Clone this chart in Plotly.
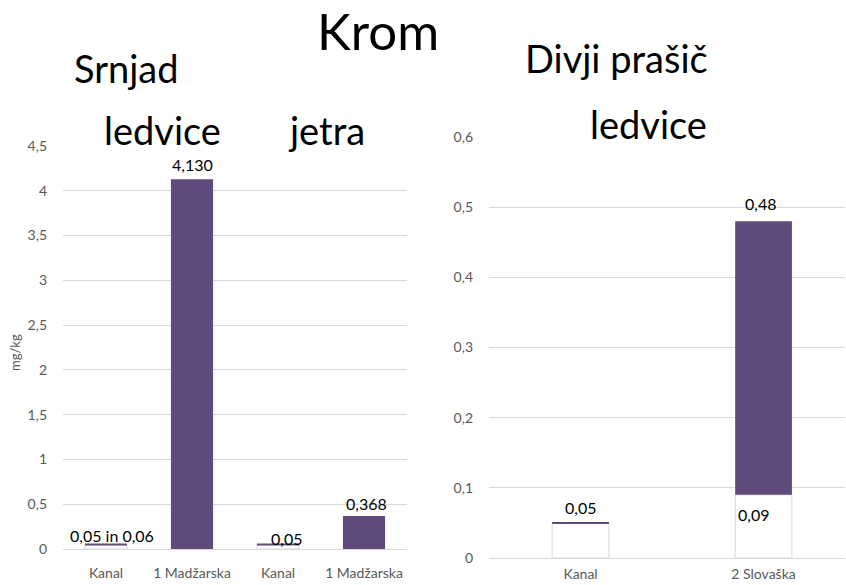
import plotly.graph_objects as go

# ---------------- data ----------------
left_categories = ["Kanal", "1 Madžarska", "Kanal", "1 Madžarska"]
left_values = [0.05, 4.130, 0.05, 0.368]
left_labels = ["0,05 in 0,06", "4,130", "0,05", "0,368"]
left_is_control = [True, False, True, False]
left_yticks = [0, 0.5, 1, 1.5, 2, 2.5, 3, 3.5, 4, 4.5]

right_categories = ["Kanal", "2 Slovaška"]
right_lower = [0.05, 0.09]          # white (control / lower) segment
right_total = [None, 0.48]          # total height of coloured bar
right_lower_labels = ["0,05", "0,09"]
right_total_labels = [None, "0,48"]
right_is_control = [True, False]
right_yticks = [0, 0.1, 0.2, 0.3, 0.4, 0.5, 0.6]

# ---------------- style ----------------
W, H = 846, 585
PURPLE = "#604a7b"
GRID = "#d9d9d9"
TICK = "#595959"
FONT = "Lato"

def px_x(p):
    return p / W

def px_y(p):
    return 1 - p / H

LW = 0.49   # left bar width (category units)
RW = 0.31   # right bar width

fig = go.Figure()

left_x = list(range(len(left_categories)))
fig.add_trace(go.Bar(
    x=[x for x, c in zip(left_x, left_is_control) if c],
    y=[v for v, c in zip(left_values, left_is_control) if c],
    width=LW, marker=dict(color="white", line=dict(color=GRID, width=1)),
    xaxis="x", yaxis="y", hoverinfo="skip", showlegend=False))
fig.add_trace(go.Bar(
    x=[x for x, c in zip(left_x, left_is_control) if not c],
    y=[v for v, c in zip(left_values, left_is_control) if not c],
    width=LW, marker=dict(color=PURPLE, line=dict(width=0)),
    xaxis="x", yaxis="y", showlegend=False))

right_x = list(range(len(right_categories)))
fig.add_trace(go.Bar(
    x=right_x, y=right_lower, width=RW,
    marker=dict(color="white", line=dict(color=GRID, width=1)),
    xaxis="x2", yaxis="y2", hoverinfo="skip", showlegend=False))
rx = [x for x, t in zip(right_x, right_total) if t is not None]
rb = [b for b, t in zip(right_lower, right_total) if t is not None]
rt = [t for t in right_total if t is not None]
fig.add_trace(go.Bar(
    x=rx, base=rb, y=[t - b for t, b in zip(rt, rb)], width=RW,
    marker=dict(color=PURPLE, line=dict(width=0)),
    xaxis="x2", yaxis="y2", showlegend=False))

shapes = []
for x, v, c in zip(left_x, left_values, left_is_control):
    if c:
        shapes.append(dict(type="line", xref="x", yref="y", x0=x - LW / 2, x1=x + LW / 2,
                           y0=v, y1=v, line=dict(color=PURPLE, width=2)))
for x, v, c in zip(right_x, right_lower, right_is_control):
    if c:
        shapes.append(dict(type="line", xref="x2", yref="y2", x0=x - RW / 2, x1=x + RW / 2,
                           y0=v, y1=v, line=dict(color=PURPLE, width=2)))

annotations = []
lab_font = dict(family=FONT, size=16, color="#000000")
left_shift = [(6, 9.5), (0, 15), (8.5, 6.5), (2, 13)]
for x, v, t, (dx, dy) in zip(left_x, left_values, left_labels, left_shift):
    annotations.append(dict(x=x, y=v, xref="x", yref="y", text=t, showarrow=False,
                            yanchor="middle", xshift=dx, yshift=dy, font=lab_font))
right_low_shift = [(0, 15.5), (-10, -20)]
for x, v, t, (dx, dy) in zip(right_x, right_lower, right_lower_labels, right_low_shift):
    annotations.append(dict(x=x, y=v, xref="x2", yref="y2", text=t, showarrow=False,
                            yanchor="middle", xshift=dx, yshift=dy, font=lab_font))
for x, v, t in zip(right_x, right_total, right_total_labels):
    if v is not None:
        annotations.append(dict(x=x, y=v, xref="x2", yref="y2", text=t, showarrow=False,
                                yanchor="middle", xshift=-3, yshift=18, font=lab_font))

def title(text, cx, cy, size):
    annotations.append(dict(x=px_x(cx), y=px_y(cy), xref="paper", yref="paper", text=text,
                            showarrow=False, xanchor="center", yanchor="middle",
                            font=dict(family=FONT, size=size, color="#000000")))

title("Krom", 378, 30, 51)
title("Srnjad", 126.5, 68, 38)
title("ledvice", 162.5, 130, 38)
title("jetra", 326.5, 130, 38)
title("Divji prašič", 616.5, 58, 38)
title("ledvice", 648, 124, 38)

annotations.append(dict(x=px_x(15), y=px_y(353), xref="paper", yref="paper", text="mg/kg",
                        textangle=-90, showarrow=False, xanchor="center", yanchor="middle",
                        font=dict(family=FONT, size=13, color=TICK)))

tick_font = dict(family=FONT, size=14, color=TICK)
xtick_font = dict(family=FONT, size=14, color=TICK)

fig.update_layout(
    width=W, height=H, margin=dict(l=0, r=0, t=0, b=0, autoexpand=False),
    paper_bgcolor="white", plot_bgcolor="white",
    barmode="overlay", separators=", ",
    shapes=shapes, annotations=annotations,
    xaxis=dict(domain=[px_x(63), px_x(407)], range=[-0.5, 3.5], automargin=False,
               tickvals=left_x, ticktext=left_categories, tickfont=xtick_font,
               showgrid=False, zeroline=False, showline=False, ticks="",
               ticklabelstandoff=14),
    yaxis=dict(domain=[px_y(549), px_y(146)], range=[0, 4.5], tickvals=left_yticks,
               automargin=False, tickformat=".1~f", tickfont=tick_font, gridcolor=GRID,
               gridwidth=1, zeroline=True, zerolinecolor=GRID, zerolinewidth=1,
               showline=False, ticklabelstandoff=15),
    xaxis2=dict(domain=[px_x(489), px_x(845)], range=[-0.5, 1.445], anchor="y2",
                automargin=False, tickvals=right_x, ticktext=right_categories,
                tickfont=xtick_font, showgrid=False, zeroline=False, showline=False,
                ticks="", ticklabelstandoff=6),
    yaxis2=dict(domain=[px_y(558), px_y(137)], range=[0, 0.6], anchor="x2",
                automargin=False, tickvals=right_yticks, tickformat=".1~f",
                tickfont=tick_font, gridcolor=GRID, gridwidth=1, zeroline=True,
                zerolinecolor=GRID, zerolinewidth=1, showline=False,
                ticklabelstandoff=15),
)

fig.write_html(
    "out.html",
    config={"displayModeBar": False},
    post_script="document.body.style.margin='0px';document.body.style.overflow='hidden';",
)
